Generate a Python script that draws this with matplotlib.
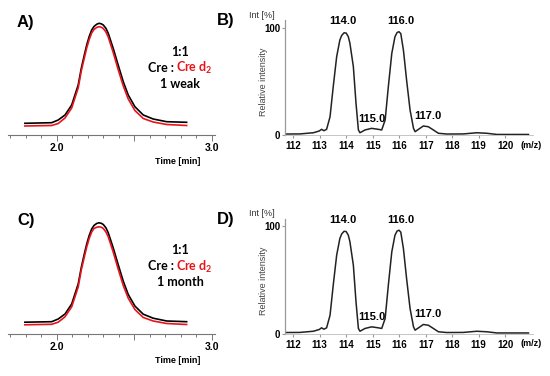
import numpy as np
import matplotlib.pyplot as plt

plt.rcParams['mathtext.fontset'] = 'custom'
plt.rcParams['mathtext.bf'] = 'Lato:bold'
plt.rcParams['mathtext.rm'] = 'Lato:bold'

W, H = 550, 376

# chromatogram (time in min, signal in arbitrary units)
t_chrom = [1.795, 1.968, 2.010, 2.054, 2.097, 2.139, 2.159, 2.177, 2.194, 2.210, 2.226,
           2.241, 2.258, 2.273, 2.288, 2.301, 2.318, 2.333, 2.365, 2.397, 2.430, 2.462,
           2.505, 2.559, 2.623, 2.710, 2.839]
cre_a = [11.7, 12.3, 15, 20, 30, 50, 66.7, 79, 90, 98.5, 105,
         108.5, 110.7, 111.7, 111.2, 110, 106.7, 101.7, 86.7, 70, 53.3, 40,
         28.3, 20, 16, 13.3, 12.7]
cre_d2_a = [9, 9.5, 11.5, 17, 27, 47, 64, 76, 87, 95.5, 102,
            105.5, 107.5, 108.3, 107.8, 106.5, 103, 98, 82.5, 65.5, 49, 36,
            24.5, 16.5, 13, 10.5, 9.5]
cre_c = [11.3, 11.8, 14.5, 19.5, 29.5, 49.5, 66, 78.5, 89.5, 98, 104.5,
         108, 110, 110.7, 110.2, 109, 105.7, 100.7, 85.7, 69, 52.3, 39,
         27.5, 19.3, 15.3, 12.5, 11.8]
cre_d2_c = [8.7, 9.2, 11.3, 16.7, 26.7, 46.5, 63.5, 75.5, 86.5, 95, 101.5,
            105, 106.2, 106.7, 106.3, 105, 101.5, 96.7, 81.5, 64.5, 48, 35.3,
            24, 16, 12.5, 10, 9]

# mass spectrum (m/z, relative intensity %)
mz = [111.69, 112.25, 112.76, 112.98, 113.07, 113.16, 113.26, 113.39, 113.51, 113.64,
      113.76, 113.83, 113.92, 114.00, 114.08, 114.14, 114.27, 114.37, 114.46, 114.52,
      114.71, 114.96, 115.21, 115.34, 115.47, 115.59, 115.72, 115.84, 115.92, 115.99,
      116.06, 116.16, 116.28, 116.41, 116.54, 116.60, 116.73, 116.91, 117.10, 117.29,
      117.48, 117.80, 118.42, 118.93, 119.31, 119.69, 120.88]
inten = [0.9, 1.0, 2.1, 3.7, 5.3, 4.0, 5.3, 17, 45, 73,
         88.5, 92.8, 95.3, 95.0, 91.6, 85.5, 63.7, 29.5, 4.7, 2.1,
         4.7, 6.2, 5.3, 4.7, 14, 45, 76, 91.6, 95.5, 96.3,
         94.5, 79, 51, 23.3, 6.2, 3.1, 5.3, 8.4, 7.7, 4.7,
         1.6, 0.9, 1.0, 2.1, 1.6, 0.5, 0.5]
peak_labels = ['114.0', '115.0', '116.0', '117.0']
peak_mz = [113.89, 114.96, 116.07, 117.08]
peak_y = [101.5, 10.5, 101.5, 13.5]

fig = plt.figure(figsize=(W / 100, H / 100), dpi=100)


def px_axes(x0, y0, x1, y1):
    # rectangle in pixel coords (top-left origin)
    return fig.add_axes([x0 / W, 1 - y1 / H, (x1 - x0) / W, (y1 - y0) / H])


def ftext(x, y, s, **kw):
    fig.text(x / W, 1 - y / H, s, **kw)


def chrom_panel(top, black, red, label, note):
    ax = px_axes(8, top + 10, 215, top + 135)
    ax.plot(t_chrom, black, color='black', lw=1.2)
    ax.plot(t_chrom, red, color='#e8141b', lw=1.2)
    ax.set_xlim(1.686, 3.022)
    ax.set_ylim(0, 125)
    for s in ['top', 'right', 'left']:
        ax.spines[s].set_visible(False)
    ax.spines['bottom'].set_color('#777777')
    ax.spines['bottom'].set_linewidth(0.8)
    ax.set_yticks([])
    ax.set_xticks([2.0, 2.5, 3.0])
    ax.set_xticklabels(['2.0', '', '3.0'], fontweight='bold', fontsize=7.5,
                       family='Liberation Sans')
    ax.set_xticks(np.arange(1.7, 3.01, 0.1), minor=True)
    ax.tick_params(axis='x', which='major', length=4, color='#777777', width=0.7, pad=2)
    ax.tick_params(axis='x', which='minor', length=2.5, color='#777777', width=0.7)
    ftext(178, top + 162, 'Time [min]', fontsize=6.5, fontweight='bold',
          family='Liberation Sans', ha='center', va='center')
    ftext(17, top + 22, label, fontsize=12, fontweight='bold',
          family='Liberation Sans', va='center')
    ftext(180, top + 52, '1:1', fontsize=9, fontweight='bold', family='Lato',
          ha='center', va='center')
    ftext(174, top + 68, 'Cre :', fontsize=9, fontweight='bold', family='Lato',
          ha='right', va='center')
    ftext(176, top + 68, r'Cre d$_{\mathbf{2}}$', fontsize=9, fontweight='bold',
          family='Lato', ha='left', va='center', color='#e8141b')
    ftext(180, top + 84, note, fontsize=9, fontweight='bold', family='Lato',
          ha='center', va='center')


def ms_panel(top, label):
    ax = px_axes(285, top + 20, 533, top + 135)
    ax.plot(mz, inten, color='#222222', lw=1.1)
    ax.set_xlim(111.69, 121.05)
    ax.set_ylim(0, 107.2)
    for s in ['top', 'right']:
        ax.spines[s].set_visible(False)
    ax.spines['left'].set_color('#999999')
    ax.spines['bottom'].set_color('#bbbbbb')
    ax.spines['left'].set_linewidth(0.9)
    ax.spines['bottom'].set_linewidth(0.6)
    ax.set_xticks(range(112, 121))
    ax.set_xticklabels([str(v) for v in range(112, 121)], fontweight='bold',
                       fontsize=7, family='Liberation Sans')
    ax.set_yticks([0, 100])
    ax.set_yticklabels(['0', '100'], fontweight='bold', fontsize=7,
                       family='Liberation Sans')
    ax.tick_params(axis='x', length=2, color='#999999', pad=2.5)
    ax.tick_params(axis='y', length=2, color='#999999', pad=1.5)
    for s, x, y in zip(peak_labels, peak_mz, peak_y):
        ax.text(x, y, s, fontsize=8, fontweight='bold', family='Liberation Sans',
                ha='center', va='bottom')
    ftext(531, top + 145.5, '(m/z)', fontsize=6.5, fontweight='bold',
          family='Liberation Sans', ha='center', va='center')
    ftext(262, top + 15, 'Int [%]', fontsize=6.5, family='Liberation Sans',
          ha='center', va='center', color='#333333')
    ftext(264, top + 82, 'Relative intensity', fontsize=6.5, family='Liberation Sans',
          ha='center', va='center', rotation=90, color='#444444')
    ftext(217, top + 21, label, fontsize=12, fontweight='bold',
          family='Liberation Sans', va='center')


chrom_panel(0, cre_a, cre_d2_a, 'A)', '1 weak')
ms_panel(0, 'B)')
chrom_panel(198.5, cre_c, cre_d2_c, 'C)', '1 month')
ms_panel(198.5, 'D)')

fig.savefig('out.png', dpi=100, facecolor='white')
